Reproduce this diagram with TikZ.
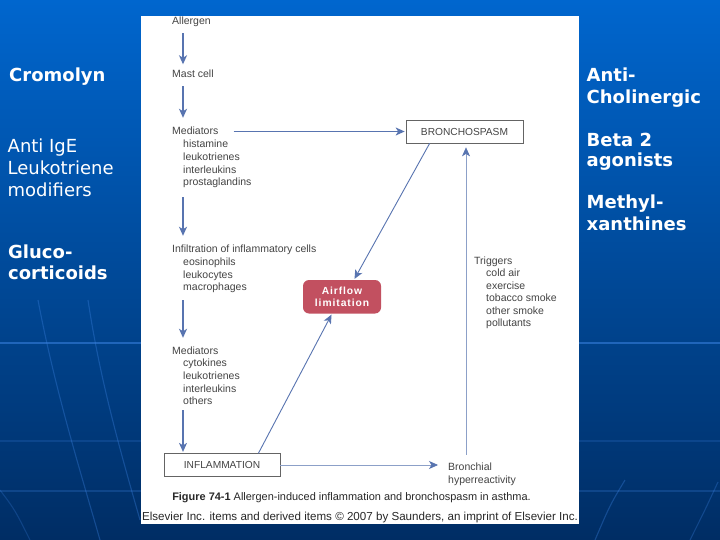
\documentclass[tikz,border=0pt]{standalone}
\usepackage{fontspec}
\setmainfont{Liberation Sans}
\newfontfamily\sidefont{DejaVu Sans}
\newfontfamily\airfont[LetterSpace=9]{Liberation Sans}
\usetikzlibrary{arrows.meta}
\definecolor{bgtop}{RGB}{0,102,206}
\definecolor{bgmid}{RGB}{0,82,172}
\definecolor{bgbot}{RGB}{0,45,100}
\definecolor{streak}{RGB}{60,130,225}
\definecolor{arrowc}{RGB}{88,116,176}
\definecolor{thinc}{RGB}{140,160,200}
\definecolor{txt}{RGB}{68,68,68}
\definecolor{capc}{RGB}{40,40,40}
\definecolor{airred}{RGB}{194,80,96}
\definecolor{boxline}{RGB}{100,100,100}
\begin{document}
\begin{tikzpicture}[x=1pt,y=-1pt,
  lbl/.style={anchor=base west, inner sep=0pt, text height=8pt, text depth=2.5pt, text=txt, font=\fontsize{10.5}{12.6}\selectfont},
  sidelbl/.style={anchor=base west, inner sep=0pt, text=white, font=\sidefont\fontsize{18}{21.5}\selectfont},
  sidebold/.style={anchor=base west, inner sep=0pt, text=white, font=\sidefont\bfseries\fontsize{18}{21.5}\selectfont},
  capbox/.style={draw=boxline, line width=0.7pt, fill=white, text=txt, font=\fontsize{10.2}{12}\selectfont, inner sep=0pt},
  arr/.style={draw=arrowc, line width=1.3pt, -{Stealth[length=9pt,width=8pt,inset=2.5pt]}},
  diag/.style={draw=arrowc, line width=0.9pt, -{Stealth[length=9pt,width=8pt,inset=2.5pt]}},
  thinarr/.style={draw=thinc, line width=0.7pt, -{Stealth[length=9pt,width=8pt,inset=2.5pt,color=arrowc]}},
  streakline/.style={draw=streak, line width=1.1pt, opacity=0.35},
  capline/.style={anchor=base, inner sep=0pt, text=capc, font=\fontsize{10.95}{13}\selectfont},
  creditline/.style={anchor=base, inner sep=0pt, text=capc, font=\fontsize{11.6}{13}\selectfont}
]
\useasboundingbox (0,0) rectangle (720,540);
% background
\shade[top color=bgtop, middle color=bgmid, bottom color=bgbot] (0,0) rectangle (720,540);
\draw[streakline, opacity=0.55, line width=1.5pt] (0,343) -- (720,343);
\draw[streakline, opacity=0.2] (0,441) -- (720,441);
\draw[streakline, opacity=0.25] (0,491) -- (720,491);
\draw[streakline] (38,300) .. controls (55,390) and (80,470) .. (100,540);
\draw[streakline] (88,300) .. controls (100,380) and (120,450) .. (140,520);
\draw[streakline, opacity=0.25] (0,490) .. controls (15,510) .. (30,540);
\draw[streakline] (625,480) .. controls (610,505) .. (595,540);
\draw[streakline, opacity=0.3] (718,482) .. controls (705,510) .. (690,540);
% white panel
\fill[white] (141,16) rectangle (579,524);
\coordinate (colx) at (183,0);
% left column
\node[lbl] (allergen) at (172,25) {Allergen};
\node[lbl] (mast) at (172,78) {Mast cell};
\node[lbl] (med1) at (172,135) {Mediators};
\node[lbl] (m1a) at (183,148) {histamine};
\node[lbl] (m1b) at (183,160.7) {leukotrienes};
\node[lbl] (m1c) at (183,173.3) {interleukins};
\node[lbl] (m1d) at (183,186) {prostaglandins};
\node[lbl] (infil) at (172,252.5) {Infiltration of inflammatory cells};
\node[lbl] (i1) at (183,265.5) {eosinophils};
\node[lbl] (i2) at (183,278) {leukocytes};
\node[lbl] (i3) at (183,290.7) {macrophages};
\node[lbl] (med2) at (172,354) {Mediators};
\node[lbl] (n1) at (183,366.7) {cytokines};
\node[lbl] (n2) at (183,379.3) {leukotrienes};
\node[lbl] (n3) at (183,392) {interleukins};
\node[lbl] (n4) at (183,404.7) {others};
% triggers
\node[lbl] (trig) at (474,264) {Triggers};
\node[lbl] (t1) at (486,276.7) {cold air};
\node[lbl] (t2) at (486,289.2) {exercise};
\node[lbl] (t3) at (486,301.7) {tobacco smoke};
\node[lbl] (t4) at (486,314.2) {other smoke};
\node[lbl] (t5) at (486,326.5) {pollutants};
\node[lbl] (bron1) at (448,470) {Bronchial};
\node[lbl] (bron2) at (448,483) {hyperreactivity};
% boxes
\node[capbox, minimum width=117pt, minimum height=23pt] (broncho) at (464.5,131.5) {BRONCHOSPASM};
\node[capbox, minimum width=116pt, minimum height=22.5pt] (infl) at (222,465) {INFLAMMATION};
\node[fill=airred, rounded corners=6pt, minimum width=78pt, minimum height=33.5pt, inner sep=0pt, text=white, align=center, font=\airfont\bfseries\fontsize{10.3}{12.7}\selectfont] (airflow) at (342,296.75) {Airflow\\limitation};
% arrows
\draw[arr, shorten <=5.5pt, shorten >=5.5pt] (allergen.south -| colx) -- (mast.north -| colx);
\draw[arr, shorten <=5.5pt, shorten >=9pt] (mast.south -| colx) -- (med1.north -| colx);
\draw[arr, shorten <=8.5pt, shorten >=8.5pt] (m1d.south -| colx) -- (infil.north -| colx);
\draw[arr, shorten <=6.8pt, shorten >=8pt] (i3.south -| colx) -- (med2.north -| colx);
\draw[arr, shorten <=2.8pt, shorten >=1.5pt] (n4.south -| colx) -- (infl.north -| colx);
\draw[arr, shorten <=15pt, shorten >=1pt] (med1.east |- broncho.west) -- (broncho.west);
\draw[diag, shorten >=1pt] ([xshift=24pt]broncho.south west) -- ([xshift=12pt]airflow.north);
\draw[diag, shorten >=1pt] ([xshift=-22pt]infl.north east) -- ([xshift=-10pt]airflow.south);
\draw[thinarr, shorten >=10pt] (infl.east) -- (infl.east -| bron1.west);
\coordinate (upbot) at ([xshift=18pt]bron1.north west);
\draw[thinarr, shorten <=7pt, shorten >=4pt] (upbot) -- (upbot |- broncho.south);
% captions
\node[capline] (caption) at (351.5,500) {\textbf{Figure 74-1} Allergen-induced inflammation and bronchospasm in asthma.};
\node[creditline] (credit) at (360,520) {Elsevier Inc. items and derived items © 2007 by Saunders, an imprint of Elsevier Inc.};
% side labels
\node[sidebold] (crom) at (9,81.5) {Cromolyn};
\node[sidelbl] (ige) at (7.5,153) {Anti IgE};
\node[sidelbl] (leuk) at (7.5,175) {Leukotriene};
\node[sidelbl] (modif) at (7.5,196.7) {modifiers};
\node[sidebold] (gluco) at (8,258.3) {Gluco-};
\node[sidebold] (cort) at (8,279.3) {corticoids};
\node[sidebold] (anti) at (586.5,81.7) {Anti-};
\node[sidebold] (chol) at (586.5,103.3) {Cholinergic};
\node[sidebold] (beta) at (586.5,146.7) {Beta 2};
\node[sidebold] (agon) at (586.5,167) {agonists};
\node[sidebold] (meth) at (586.5,208.3) {Methyl-};
\node[sidebold] (xant) at (586.5,230) {xanthines};
\end{tikzpicture}
\end{document}
